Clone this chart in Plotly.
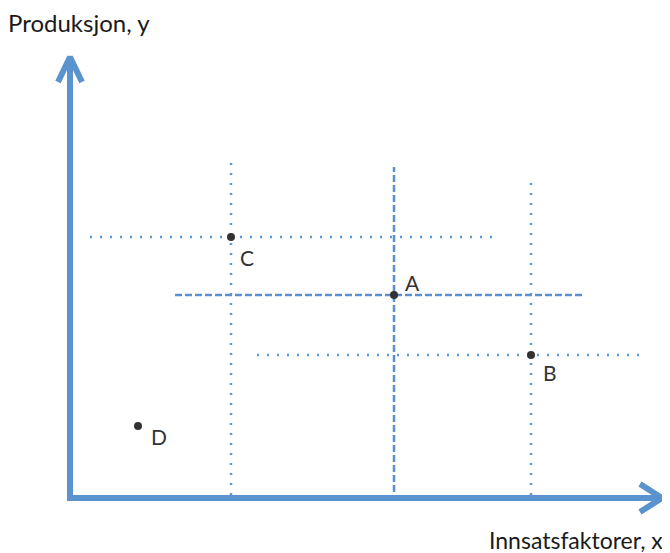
import plotly.graph_objects as go

# Points (x = input factors, y = production), origin at axis corner
point_labels = ["A", "B", "C", "D"]
point_x = [324, 461, 161, 68]
point_y = [203, 143, 261, 72]

# Guide lines through points A, B, C
guide_points = ["C", "A", "B"]
guide_vert_lo = [3, 6, 3]
guide_vert_hi = [335, 331, 315]
guide_horiz_lo = [20, 105, 187]
guide_horiz_hi = [425, 515, 570]
guide_style = ["dot", "dash", "dot"]

x_axis_title = "Innsatsfaktorer, x"
y_axis_title = "Produksjon, y"
x_axis_end = 592
y_axis_end = 441

AXIS_BLUE = "#5b93cf"
DOT_BLUE = "#5b9bd5"
DASH_BLUE = "#5a8fd0"

W, H = 662, 545  # page body has an 8px margin

fig = go.Figure()

idx = {lab: i for i, lab in enumerate(point_labels)}
for name, vlo, vhi, hlo, hhi, sty in zip(guide_points, guide_vert_lo, guide_vert_hi,
                                          guide_horiz_lo, guide_horiz_hi, guide_style):
    i = idx[name]
    px, py = point_x[i], point_y[i]
    if sty == "dot":
        line = dict(color=DOT_BLUE, width=2.5, dash="2px,8px")
    else:
        line = dict(color=DASH_BLUE, width=2.5, dash="7px,3px")
    fig.add_trace(go.Scatter(x=[px, px], y=[vlo, vhi], mode="lines", line=line,
                             hoverinfo="skip", showlegend=False))
    fig.add_trace(go.Scatter(x=[hlo, hhi], y=[py, py], mode="lines", line=line,
                             hoverinfo="skip", showlegend=False))

# Axes with open arrowheads
fig.add_trace(go.Scatter(x=[0, 0], y=[0, y_axis_end], mode="lines",
                         line=dict(color=AXIS_BLUE, width=6), hoverinfo="skip", showlegend=False))
fig.add_trace(go.Scatter(x=[-3, x_axis_end], y=[0, 0], mode="lines",
                         line=dict(color=AXIS_BLUE, width=6), hoverinfo="skip", showlegend=False))
fig.add_trace(go.Scatter(x=[-12, 0, 12], y=[y_axis_end - 25, y_axis_end, y_axis_end - 25],
                         mode="lines", line=dict(color=AXIS_BLUE, width=6),
                         hoverinfo="skip", showlegend=False))
fig.add_trace(go.Scatter(x=[x_axis_end - 22, x_axis_end, x_axis_end - 22], y=[14, 0, -14],
                         mode="lines", line=dict(color=AXIS_BLUE, width=6),
                         hoverinfo="skip", showlegend=False))

# Points
fig.add_trace(go.Scatter(x=point_x, y=point_y, mode="markers",
                         marker=dict(color="#333333", size=8),
                         hoverinfo="skip", showlegend=False))

label_offsets = {"A": (9, 13), "B": (10, -17), "C": (7, -20), "D": (11, -10)}
for lab, x, y in zip(point_labels, point_x, point_y):
    dx, dy = label_offsets[lab]
    fig.add_annotation(x=x, y=y, text=lab, showarrow=False, xanchor="left", yanchor="middle",
                       xshift=dx, yshift=dy,
                       font=dict(family="Lato, Open Sans, sans-serif", size=21, color="#333333"))

fig.add_annotation(xref="paper", yref="paper", x=0, y=1 - 14 / H, text=y_axis_title,
                   showarrow=False, xanchor="left", yanchor="middle", xshift=-2,
                   font=dict(family="Lato, Open Sans, sans-serif", size=24, color="#1a1a1a"))
fig.add_annotation(xref="paper", yref="paper", x=1, y=1 - 532 / H, text=x_axis_title,
                   showarrow=False, xanchor="right", yanchor="middle", xshift=-5,
                   font=dict(family="Lato, Open Sans, sans-serif", size=23, color="#1a1a1a"))

fig.update_layout(
    width=W, height=H,
    margin=dict(l=0, r=0, t=0, b=0),
    paper_bgcolor="white", plot_bgcolor="white",
    xaxis=dict(range=[-62, 600], visible=False, fixedrange=True),
    yaxis=dict(range=[-55, 490], visible=False, fixedrange=True),
)

fig.write_html("out.html")
